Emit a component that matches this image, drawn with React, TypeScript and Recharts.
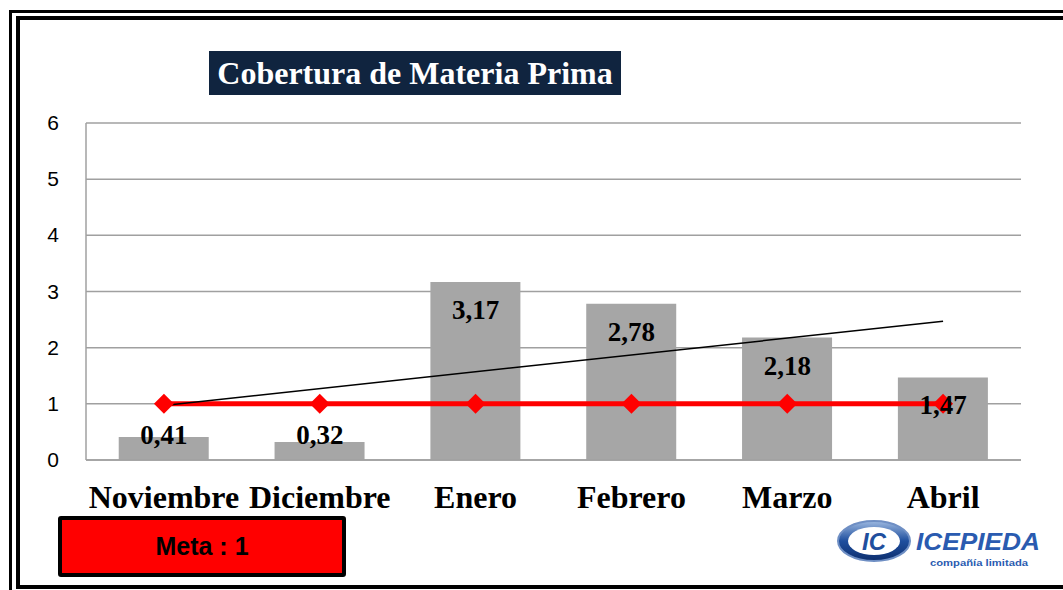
import * as React from "react";
import {
  ComposedChart,
  Bar,
  Line,
  XAxis,
  YAxis,
  CartesianGrid,
  ReferenceLine,
  LabelList,
} from "recharts";

const months = ["Noviembre", "Diciembre", "Enero", "Febrero", "Marzo", "Abril"];
const coverage = [0.41, 0.32, 3.17, 2.78, 2.18, 1.47];
const meta = [1, 1, 1, 1, 1, 1];
const yTicks = [0, 1, 2, 3, 4, 5, 6];
// trendline ends
const trendStart = 0.97;
const trendEnd = 2.47;

const data = months.map((m, i) => ({ month: m, value: coverage[i], meta: meta[i] }));

const PLOT_BOTTOM = 460;
const serif = "'Liberation Serif', 'Times New Roman', serif";
const sans = "'Liberation Sans', Arial, sans-serif";

function MonthTick(props) {
  const { x, y, payload } = props;
  return (
    <text x={x} y={y} dy={48} textAnchor="middle" fontFamily={serif} fontWeight="bold" fontSize={32} fill="#000">
      {payload.value}
    </text>
  );
}

function ValueTick(props) {
  const { x, y, payload } = props;
  return (
    <text x={x - 33} y={y} dy={7} textAnchor="middle" fontFamily={sans} fontSize={21} fill="#000">
      {payload.value}
    </text>
  );
}

function Diamond(props) {
  const { cx, cy } = props;
  if (cx == null || cy == null) return null;
  return (
    <path d={`M${cx},${cy - 10} L${cx + 10},${cy} L${cx},${cy + 10} L${cx - 10},${cy} Z`} fill="#ff0000" />
  );
}

function ValueLabel(props) {
  const { x, y, value } = props;
  const cy = Math.min(y + 28, PLOT_BOTTOM - 25);
  return (
    <text x={x} y={cy} dominantBaseline="central" textAnchor="middle" fontFamily={serif} fontWeight="bold" fontSize={27} fill="#000">
      {Number(value).toFixed(2).replace(".", ",")}
    </text>
  );
}

export default function App() {
  return (
    <div style={{ position: "absolute", left: 0, top: 0, width: 1063, height: 590, overflow: "hidden", background: "#fff" }}>
      {/* double frame */}
      <div style={{ position: "absolute", left: 9, top: 10, width: 1100, height: 700, border: "3px solid #000" }} />
      <div style={{ position: "absolute", left: 16, top: 16, width: 1100, height: 565, border: "4px solid #000" }} />

      <ComposedChart
        width={1063}
        height={590}
        data={data}
        margin={{ top: 123, right: 42, bottom: 70, left: 0 }}
        barCategoryGap="21%"
        style={{ position: "absolute", left: 0, top: 0 }}
      >
        <CartesianGrid vertical={false} stroke="#a0a0a0" strokeWidth={1.5} />
        <XAxis
          dataKey="month"
          height={60}
          tickLine={false}
          tickSize={0}
          tickMargin={0}
          axisLine={{ stroke: "#a0a0a0", strokeWidth: 1.5 }}
          tick={<MonthTick />}
          interval={0}
        />
        <YAxis
          width={86}
          domain={[0, 6]}
          ticks={yTicks}
          tickLine={false}
          tickSize={0}
          tickMargin={0}
          axisLine={{ stroke: "#a0a0a0", strokeWidth: 1.5 }}
          tick={<ValueTick />}
        />
        <Bar dataKey="value" fill="#a6a6a6" isAnimationActive={false} />
        <Line
          dataKey="meta"
          stroke="#ff0000"
          strokeWidth={5}
          dot={<Diamond />}
          activeDot={false}
          isAnimationActive={false}
        />
        <ReferenceLine
          segment={[
            { x: months[0], y: trendStart },
            { x: months[months.length - 1], y: trendEnd },
          ]}
          stroke="#000"
          strokeWidth={1.5}
        />
        <Line dataKey="value" stroke="none" dot={false} activeDot={false} isAnimationActive={false}>
          <LabelList dataKey="value" content={<ValueLabel />} />
        </Line>
      </ComposedChart>

      {/* title */}
      <div
        style={{
          position: "absolute",
          left: 209,
          top: 51,
          width: 412,
          height: 44,
          background: "#10243f",
          color: "#fff",
          fontFamily: serif,
          fontWeight: "bold",
          fontSize: 32,
          lineHeight: "44px",
          textAlign: "center",
          whiteSpace: "nowrap",
        }}
      >
        Cobertura de Materia Prima
      </div>

      {/* meta box */}
      <div
        style={{
          position: "absolute",
          left: 58,
          top: 516,
          width: 280,
          height: 53,
          background: "#ff0000",
          border: "4px solid #000",
          borderRadius: 3,
          fontFamily: sans,
          fontWeight: "bold",
          fontSize: 25,
          lineHeight: "53px",
          textAlign: "center",
          color: "#000",
        }}
      >
        Meta : 1
      </div>

      {/* logo */}
      <svg style={{ position: "absolute", left: 836, top: 518 }} width={210} height={50}>
        <defs>
          <linearGradient id="lg" x1="0" y1="0" x2="0" y2="1">
            <stop offset="0%" stopColor="#9cb8e0" />
            <stop offset="50%" stopColor="#1f4f9e" />
            <stop offset="100%" stopColor="#0d2e6e" />
          </linearGradient>
        </defs>
        <ellipse cx={38} cy={23} rx={36} ry={20} fill="url(#lg)" stroke="#6f8fc4" strokeWidth={2} />
        <ellipse cx={38} cy={23} rx={26} ry={14} fill="#fff" />
        <text x={38} y={32} textAnchor="middle" fontFamily={sans} fontStyle="italic" fontWeight="bold" fontSize={24} fill="#1f4f9e">
          IC
        </text>
        <text x={80} y={32} fontFamily={sans} fontStyle="italic" fontWeight="bold" fontSize={24} fill="#2a5bb0" textLength={124} lengthAdjust="spacingAndGlyphs">
          ICEPIEDA
        </text>
        <text x={94} y={48} fontFamily={sans} fontWeight="bold" fontSize={9} fill="#2a5bb0" textLength={98} lengthAdjust="spacingAndGlyphs">
          compañía limitada
        </text>
      </svg>
    </div>
  );
}
